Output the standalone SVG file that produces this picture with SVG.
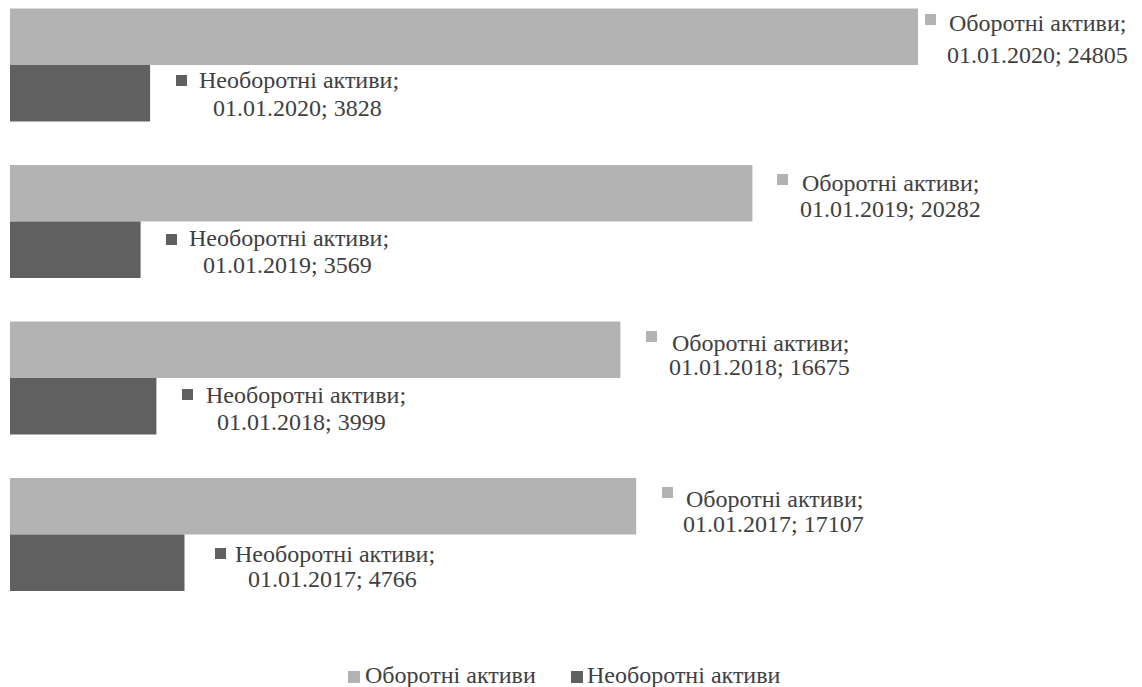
<svg xmlns="http://www.w3.org/2000/svg" width="1142" height="687" viewBox="0 0 1142 687">
<style>
.bg{fill:#ffffff}
.cur{fill:#b3b3b3}
.non{fill:#606060}
.t{font-family:"Liberation Serif","Times New Roman",serif;font-size:24px;fill:#404040}
</style>
<rect class="bg" x="0" y="0" width="1142" height="687"/>
<g id="bars">
<rect class="cur" x="10" y="8.5" width="908" height="56.5"/>
<rect class="non" x="10" y="65" width="140.1" height="56.5"/>
<rect class="cur" x="10" y="165" width="742.4" height="56.5"/>
<rect class="non" x="10" y="221.5" width="130.6" height="56.5"/>
<rect class="cur" x="10" y="321.5" width="610.4" height="56.5"/>
<rect class="non" x="10" y="378" width="146.4" height="56.5"/>
<rect class="cur" x="10" y="478" width="626.2" height="56.5"/>
<rect class="non" x="10" y="534.5" width="174.5" height="56.5"/>
</g>
<g id="label-cur-2020">
<rect class="cur" x="925" y="14" width="11" height="11"/>
<text class="t" x="949" y="31">Оборотні активи;</text>
<text class="t" x="947" y="63">01.01.2020; 24805</text>
</g>
<g id="label-non-2020">
<rect class="non" x="176" y="75" width="11" height="11"/>
<text class="t" x="199" y="88">Необоротні активи;</text>
<text class="t" x="213" y="116">01.01.2020; 3828</text>
</g>
<g id="label-cur-2019">
<rect class="cur" x="777" y="174" width="11" height="11"/>
<text class="t" x="802" y="191">Оборотні активи;</text>
<text class="t" x="800" y="217">01.01.2019; 20282</text>
</g>
<g id="label-non-2019">
<rect class="non" x="166" y="234" width="11" height="11"/>
<text class="t" x="189" y="246">Необоротні активи;</text>
<text class="t" x="203" y="273">01.01.2019; 3569</text>
</g>
<g id="label-cur-2018">
<rect class="cur" x="646" y="331" width="11" height="11"/>
<text class="t" x="672" y="351">Оборотні активи;</text>
<text class="t" x="669" y="375">01.01.2018; 16675</text>
</g>
<g id="label-non-2018">
<rect class="non" x="182" y="389" width="11" height="11"/>
<text class="t" x="206" y="403">Необоротні активи;</text>
<text class="t" x="217" y="430">01.01.2018; 3999</text>
</g>
<g id="label-cur-2017">
<rect class="cur" x="662" y="487" width="11" height="11"/>
<text class="t" x="686" y="507">Оборотні активи;</text>
<text class="t" x="683" y="532">01.01.2017; 17107</text>
</g>
<g id="label-non-2017">
<rect class="non" x="215" y="548" width="11" height="11"/>
<text class="t" x="235" y="562">Необоротні активи;</text>
<text class="t" x="248" y="587">01.01.2017; 4766</text>
</g>
<g id="legend">
<rect class="cur" x="348" y="671" width="12" height="12"/>
<text class="t" x="365" y="683">Оборотні активи</text>
<rect class="non" x="571" y="671" width="12" height="12"/>
<text class="t" x="587" y="683">Необоротні активи</text>
</g>
</svg>
